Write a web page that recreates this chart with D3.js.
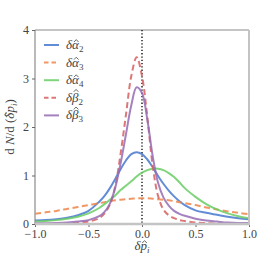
<!DOCTYPE html>
<html>
<head>
<meta charset="utf-8">
<script src="https://cdn.jsdelivr.net/npm/d3@7"></script>
<style>
  body { margin: 0; background: #fff; }
  text { font-family: "Liberation Serif", "DejaVu Serif", serif; }
</style>
</head>
<body>
<script>
// x grid shared by all curves
var xs = [-1, -0.9, -0.8, -0.7, -0.6, -0.5, -0.4, -0.35, -0.3, -0.25, -0.2, -0.15, -0.1, -0.05,
          0, 0.05, 0.1, 0.15, 0.2, 0.25, 0.3, 0.35, 0.4, 0.5, 0.6, 0.7, 0.8, 0.9, 1];

// values
var alpha2 = [0.07, 0.08, 0.10, 0.13, 0.18, 0.27, 0.46, 0.58, 0.74, 0.93, 1.13, 1.31, 1.44, 1.48,
              1.44, 1.33, 1.17, 0.99, 0.83, 0.69, 0.57, 0.47, 0.39, 0.28, 0.23, 0.19, 0.15, 0.12, 0.10];
var alpha3 = [0.21, 0.24, 0.27, 0.31, 0.35, 0.39, 0.43, 0.45, 0.47, 0.49, 0.50, 0.51, 0.52, 0.53,
              0.53, 0.53, 0.52, 0.51, 0.50, 0.49, 0.47, 0.45, 0.43, 0.39, 0.34, 0.30, 0.26, 0.23, 0.20];
var alpha4 = [0.05, 0.06, 0.08, 0.11, 0.15, 0.22, 0.33, 0.41, 0.50, 0.59, 0.70, 0.79, 0.88, 0.98,
              1.06, 1.11, 1.14, 1.14, 1.11, 1.05, 0.97, 0.86, 0.74, 0.56, 0.41, 0.30, 0.22, 0.16, 0.12];
var beta2  = [0.00, 0.00, 0.01, 0.01, 0.03, 0.05, 0.12, 0.22, 0.40, 0.78, 1.45, 2.25, 3.05, 3.44,
              3.05, 2.20, 1.20, 0.58, 0.30, 0.18, 0.12, 0.08, 0.06, 0.03, 0.02, 0.01, 0.005, 0.00, 0.00];
var beta3  = [0.01, 0.015, 0.02, 0.03, 0.05, 0.08, 0.16, 0.25, 0.42, 0.75, 1.25, 1.85, 2.45, 2.82,
              2.70, 2.15, 1.40, 0.85, 0.55, 0.38, 0.27, 0.21, 0.17, 0.11, 0.07, 0.05, 0.03, 0.02, 0.02];

var letters = ["α", "α", "α", "β", "β"];
var subs = ["2", "3", "4", "2", "3"];
var colors = ["#4878d0", "#ee854a", "#6acc64", "#d65f5f", "#956cb4"];
var dashed = [false, true, false, true, false];
var series = [alpha2, alpha3, alpha4, beta2, beta3];

var xTicks = [-1, -0.5, 0, 0.5, 1];
var yTicks = [0, 1, 2, 3, 4];

var margin = {top: 30, right: 28, bottom: 32, left: 35},
    width = 277 - margin.left - margin.right,
    height = 256 - margin.top - margin.bottom;

var svg = d3.select("body").append("svg")
    .attr("width", 277)
    .attr("height", 256);

var g = svg.append("g")
    .attr("transform", "translate(" + margin.left + "," + margin.top + ")");

var x = d3.scaleLinear().domain([-1, 1]).range([0, width]);
var y = d3.scaleLinear().domain([0, 4]).range([height, 0]);

// little circumflex over character idx; baseline and letter height given
function addHat(parent, textSel, idx, baseline, top) {
    var box = textSel.node().getExtentOfChar(idx);
    var cx = box.x + box.width / 2 + 0.8;
    var yb = baseline - top - 1;
    parent.append("path")
        .attr("d", "M" + (cx - 2.3) + "," + yb + "L" + cx + "," + (yb - 2.4) + "L" + (cx + 2.3) + "," + yb)
        .attr("fill", "none")
        .attr("stroke", "#444")
        .attr("stroke-width", 0.8);
}

// frame: top/left dark, right/bottom light and thicker
g.append("line").attr("x1", 0).attr("x2", width).attr("y1", 0).attr("y2", 0)
    .attr("stroke", "#8c8c8c").attr("stroke-width", 1.2);
g.append("line").attr("x1", 0).attr("x2", 0).attr("y1", 0).attr("y2", height)
    .attr("stroke", "#8c8c8c").attr("stroke-width", 1.2);

// axes
var xAxis = g.append("g")
    .attr("transform", "translate(0," + height + ")")
    .call(d3.axisBottom(x).tickValues(xTicks).tickSize(3).tickPadding(2)
        .tickFormat(function(d) { return d3.format(".1f")(d).replace("-", "−"); }));
var yAxis = g.append("g")
    .call(d3.axisLeft(y).tickValues(yTicks).tickSize(3).tickPadding(3).tickFormat(d3.format("d")));

[xAxis, yAxis].forEach(function(a) {
    a.select(".domain").remove();
    a.selectAll("line").attr("stroke", "#666");
    a.selectAll("text").attr("fill", "#444").style("font-size", "12px")
        .style("font-family", '"Liberation Serif", serif');
});
yAxis.selectAll("text").attr("dy", "0.3em");

// zero line
g.append("line")
    .attr("x1", x(0)).attr("x2", x(0)).attr("y1", 0).attr("y2", height)
    .attr("stroke", "#000").attr("stroke-width", 1.3).attr("stroke-dasharray", "1.3,2");

var line = d3.line()
    .x(function(d, i) { return x(xs[i]); })
    .y(function(d) { return y(d); })
    .curve(d3.curveCatmullRom.alpha(0.5));

series.forEach(function(s, i) {
    g.append("path")
        .datum(s)
        .attr("fill", "none")
        .attr("stroke", colors[i])
        .attr("stroke-opacity", 0.85)
        .attr("stroke-width", 2)
        .attr("stroke-dasharray", dashed[i] ? "6,3.5" : null)
        .attr("d", line);
});

g.append("line").attr("x1", width).attr("x2", width).attr("y1", 0).attr("y2", height)
    .attr("stroke", "#c4c4c4").attr("stroke-width", 2);
g.append("line").attr("x1", 0).attr("x2", width + 1).attr("y1", height).attr("y2", height)
    .attr("stroke", "#c4c4c4").attr("stroke-width", 2.5);

// legend
var legend = g.append("g").attr("transform", "translate(9,15)");
series.forEach(function(s, i) {
    var row = legend.append("g").attr("transform", "translate(0," + (i * 17.6) + ")");
    row.append("line")
        .attr("x1", 0).attr("x2", 15).attr("y1", 0).attr("y2", 0)
        .attr("stroke", colors[i]).attr("stroke-opacity", 0.85)
        .attr("stroke-width", 2)
        .attr("stroke-dasharray", dashed[i] ? "4.5,3" : null);
    var t = row.append("text")
        .attr("x", 22).attr("y", 4)
        .attr("fill", "#444")
        .style("font-size", "13px");
    t.append("tspan").text("δ" + letters[i]).style("font-style", "italic");
    t.append("tspan").text(subs[i]).attr("dy", 3).style("font-size", "9px");
    addHat(row, t, 1, 4, letters[i] === "β" ? 9 : 6);
});

// axis labels
var ylg = svg.append("g")
    .attr("transform", "translate(14," + (margin.top + height / 2) + ") rotate(-90)");
var yl = ylg.append("text")
    .attr("text-anchor", "middle")
    .attr("fill", "#444")
    .style("font-size", "13px");
yl.append("tspan").text("d ");
yl.append("tspan").text("N").style("font-style", "italic");
yl.append("tspan").text("/d (");
yl.append("tspan").text("δp").style("font-style", "italic");
yl.append("tspan").text("i").attr("dy", 3).style("font-size", "9px").style("font-style", "italic");
yl.append("tspan").text(")").attr("dy", -3);
addHat(ylg, yl, 7, 0, 6);

var xlg = svg.append("g");
var xl = xlg.append("text")
    .attr("x", margin.left + x(0))
    .attr("y", 250)
    .attr("text-anchor", "middle")
    .attr("fill", "#444")
    .style("font-size", "13px");
xl.append("tspan").text("δp").style("font-style", "italic");
xl.append("tspan").text("i").attr("dy", 3).style("font-size", "9px").style("font-style", "italic");
addHat(xlg, xl, 1, 250, 6);
</script>
</body>
</html>
